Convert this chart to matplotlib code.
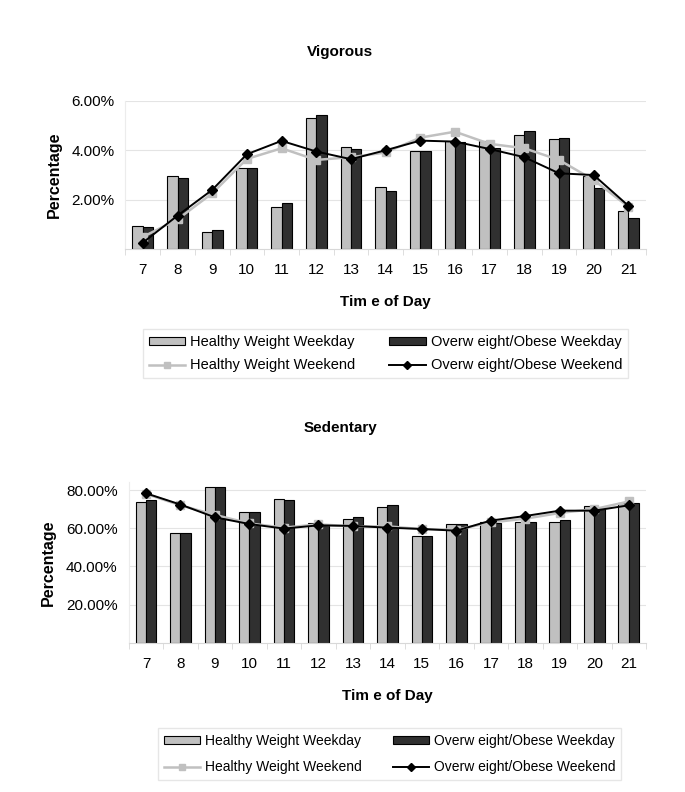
import numpy as np
import matplotlib.pyplot as plt
from matplotlib.ticker import FuncFormatter

plt.rcParams['font.family'] = ['Liberation Sans', 'DejaVu Sans']

hours = [7, 8, 9, 10, 11, 12, 13, 14, 15, 16, 17, 18, 19, 20, 21]

# vigorous activity (%)
vig_hw_weekday = [0.94, 2.96, 0.71, 3.30, 1.71, 5.32, 4.12, 2.53, 3.96, 4.38, 4.39, 4.61, 4.44, 2.98, 1.55]
vig_ow_weekday = [0.89, 2.86, 0.77, 3.30, 1.87, 5.44, 4.07, 2.37, 3.96, 4.35, 4.08, 4.78, 4.50, 2.48, 1.28]
vig_hw_weekend = [0.50, 1.21, 2.26, 3.65, 4.08, 3.61, 3.72, 3.91, 4.51, 4.75, 4.26, 4.08, 3.61, 2.80, 1.72]
vig_ow_weekend = [0.27, 1.36, 2.40, 3.84, 4.38, 3.95, 3.64, 4.00, 4.39, 4.35, 4.05, 3.72, 3.07, 3.00, 1.76]

# sedentary (%)
sed_hw_weekday = [73.9, 57.7, 81.6, 68.7, 75.5, 62.5, 65.0, 71.0, 55.9, 62.1, 63.1, 63.5, 63.5, 71.5, 73.1]
sed_ow_weekday = [74.8, 57.7, 81.6, 68.7, 74.8, 61.7, 65.7, 71.9, 55.9, 62.1, 62.6, 63.5, 64.3, 70.1, 73.4]
sed_hw_weekend = [78.0, 72.0, 67.0, 62.5, 60.3, 62.0, 61.0, 61.0, 59.5, 59.2, 63.0, 65.0, 68.0, 70.0, 74.0]
sed_ow_weekend = [78.3, 72.4, 65.7, 62.2, 59.8, 61.5, 61.2, 60.3, 59.6, 58.7, 64.0, 66.4, 69.2, 69.2, 72.0]

GREY = '#c0c0c0'
DARK = '#303030'
FS = 11


def draw(ax, hw_wd, ow_wd, hw_we, ow_we, ymax, yticks):
    x = np.arange(len(hours))
    w = 0.3
    b1 = ax.bar(x - w / 2, np.array(hw_wd) / 100, w, color=GREY, edgecolor='black', linewidth=0.8, zorder=2)
    b2 = ax.bar(x + w / 2, np.array(ow_wd) / 100, w, color=DARK, edgecolor='black', linewidth=0.8, zorder=2)
    l1, = ax.plot(x, np.array(hw_we) / 100, color=GREY, lw=1.8, marker='s', ms=5.5, zorder=3)
    l2, = ax.plot(x, np.array(ow_we) / 100, color='black', lw=1.4, marker='D', ms=5.5, zorder=4)
    ax.set_xlim(-0.5, len(hours) - 0.5)
    ax.set_ylim(0, ymax)
    ax.set_yticks(yticks)
    ax.yaxis.set_major_formatter(FuncFormatter(lambda v, p: '%.2f%%' % (v * 100)))
    ax.set_xticks(x)
    ax.set_xticklabels([str(h) for h in hours])
    ax.set_xticks(np.arange(len(hours) + 1) - 0.5, minor=True)
    ax.tick_params(axis='x', which='major', length=0, pad=10, labelsize=FS)
    ax.tick_params(axis='x', which='minor', length=4, color='#d8d8d8', direction='out')
    ax.tick_params(axis='y', length=0, pad=8, labelsize=FS)
    ax.grid(axis='y', color='#e4e4e4', lw=0.8, zorder=0)
    ax.set_axisbelow(True)
    for s in ['top', 'right']:
        ax.spines[s].set_visible(False)
    ax.spines['left'].set_color('#ececec')
    ax.spines['bottom'].set_color('#d8d8d8')
    ax.set_xlabel('Tim e of Day', fontsize=FS, fontweight='bold', labelpad=13)
    ax.set_ylabel('Percentage', fontsize=FS + 0.5, fontweight='bold', labelpad=7)
    return [b1, l1, b2, l2]


fig = plt.figure(figsize=(6.85, 7.92), dpi=100)
labels = ['Healthy Weight Weekday', 'Healthy Weight Weekend',
          'Overw eight/Obese Weekday', 'Overw eight/Obese Weekend']

ax1 = fig.add_axes([0.1832, 0.6852, 0.7594, 0.1876])
h = draw(ax1, vig_hw_weekday, vig_ow_weekday, vig_hw_weekend, vig_ow_weekend, 0.06, [0.02, 0.04, 0.06])
fig.text(340 / 685, 1 - 51.7 / 792, 'Vigorous', ha='center', va='center', fontsize=FS, fontweight='bold')
fig.legend(h, labels, ncol=2, loc='upper left', bbox_to_anchor=(143 / 685, 1 - 329 / 792),
           fontsize=10.5, frameon=True, fancybox=False, edgecolor='#e0e0e0', handlelength=2.5,
           handleheight=0.5, handletextpad=0.35, columnspacing=2.3, labelspacing=0.65,
           borderpad=0.4, borderaxespad=0, markerscale=0.75)

ax2 = fig.add_axes([0.1879, 0.1885, 0.7552, 0.2024])
h = draw(ax2, sed_hw_weekday, sed_ow_weekday, sed_hw_weekend, sed_ow_weekend, 0.84, [0.2, 0.4, 0.6, 0.8])
fig.text(340 / 685, 1 - 428 / 792, 'Sedentary', ha='center', va='center', fontsize=FS, fontweight='bold')
fig.legend(h, labels, ncol=2, loc='upper left', bbox_to_anchor=(158 / 685, 1 - 728 / 792),
           fontsize=10, frameon=True, fancybox=False, edgecolor='#e0e0e0', handlelength=2.6,
           handleheight=0.5, handletextpad=0.3, columnspacing=2.3, labelspacing=0.85,
           borderpad=0.45, borderaxespad=0, markerscale=0.75)

fig.savefig('out.png', dpi=100)
